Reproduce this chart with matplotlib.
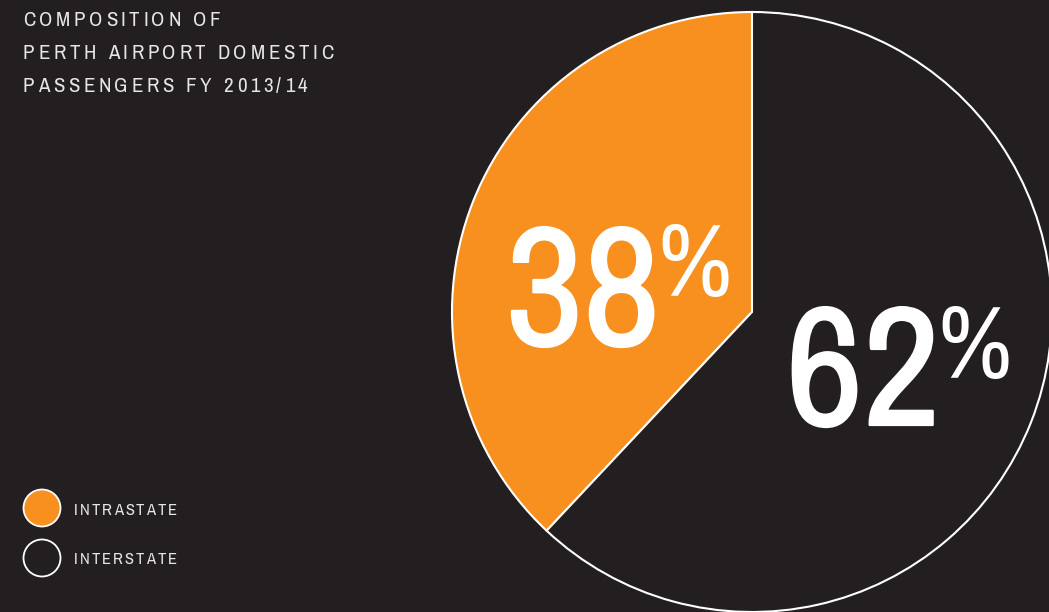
import matplotlib
matplotlib.use('Agg')
import matplotlib.pyplot as plt
import matplotlib.patheffects as pe
from matplotlib.patches import Circle
from matplotlib.font_manager import FontProperties, fontManager

# 数据
labels = ['INTRASTATE', 'INTERSTATE']
shares = [38, 62]
title_lines = ['COMPOSITION OF', 'PERTH AIRPORT DOMESTIC', 'PASSENGERS FY 2013/14']

bg = '#231f20'
orange = '#f7901e'
W, H = 1049, 612


# 找一个窄体字（Narrow / Condensed），找不到就用 Roboto
def pick_font():
    fonts = fontManager.ttflist
    for key in ['Narrow', 'Condensed']:
        for f in fonts:
            if key.lower() in (f.name + ' ' + f.fname).lower() and f.style == 'normal' \
                    and f.weight in (400, 'normal', 'regular', 'book'):
                return f.fname
    for f in fonts:
        if f.stretch in ('condensed', 'semi-condensed') and f.style == 'normal' and f.weight in (400, 'normal'):
            return f.fname
    return None


fpath = pick_font()


def fp(size):
    if fpath:
        return FontProperties(fname=fpath, size=size)
    return FontProperties(family='Roboto', size=size)


fig = plt.figure(figsize=(W / 100, H / 100), dpi=100, facecolor=bg)
ax = fig.add_axes([0, 0, 1, 1])
renderer = fig.canvas.get_renderer()


def py(y):
    # 像素坐标（从上往下）转成数据坐标
    return H - y


def ink(s, size):
    w, h, d = renderer.get_text_width_height_descent(s, fp(size), ismath=False)
    return w, h - d


def fit_h(s, target):
    # 按字高求字号
    return 100 * target / ink(s, 100)[1]


def spaced(x, y, s, size, track, color='#e6e6e6'):
    # 逐字排版，加字距
    wH = ink('H', size)[0]
    for i, ch in enumerate(s):
        w = ink(s[:i] + 'H', size)[0] - wH if i else 0
        ax.text(x + w + i * track, py(y), ch, fontproperties=fp(size), color=color,
                ha='left', va='baseline')


def track_for(s, size, target_w):
    w = ink(s, size)[0]
    return (target_w - w) / (len(s) - 1)


def percent(x, base, top, num, sb, ss):
    # 大数字 + 上标的 %
    thick = [pe.withStroke(linewidth=1.6, foreground='white')]
    ax.text(x, py(base), str(num), fontproperties=fp(sb), color='white',
            ha='left', va='baseline', path_effects=thick)
    w = ink(str(num), sb)[0]
    hp = ink('%', ss)[1]
    ax.text(x + w - 3, py(top + hp), '%', fontproperties=fp(ss), color='white',
            ha='left', va='baseline')


# 饼图
cx, cy, r = 752, 312, 300
ax.pie(shares, colors=[orange, bg], startangle=90, counterclock=True,
       center=(cx, py(cy)), radius=r, frame=True,
       wedgeprops=dict(edgecolor='white', linewidth=1.5))
ax.set_xlim(0, W)
ax.set_ylim(0, H)
ax.set_aspect('equal')
ax.axis('off')

# 百分比
sb = fit_h('38', 118)
ss = fit_h('%', 71)
percent(506, 345, 224, shares[0], sb, ss)
percent(786, 425, 306, shares[1], sb, ss)

# 标题
st = fit_h('H', 14.5)
tr = track_for(title_lines[1], st, 310)
for k, line in enumerate(title_lines):
    spaced(23, 26 + k * 33, line, st, tr)

# 图例
ax.add_patch(Circle((42, py(508)), 18.5, facecolor=orange, edgecolor='white', linewidth=1.3))
ax.add_patch(Circle((42, py(558)), 18.5, facecolor='none', edgecolor='white', linewidth=1.3))
sl = fit_h('H', 11.5)
tl = track_for(labels[0], sl, 103)
spaced(74, 515, labels[0], sl, tl)
spaced(74, 564, labels[1], sl, tl)

fig.savefig('out.png', dpi=100, facecolor=bg)
